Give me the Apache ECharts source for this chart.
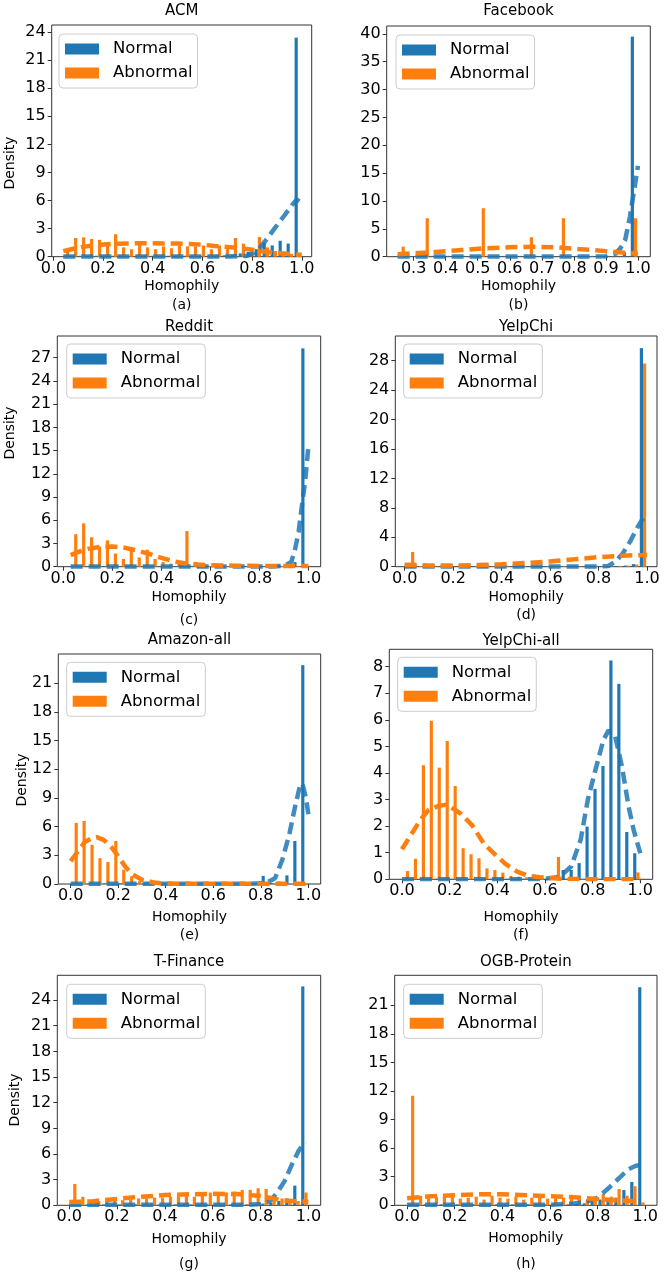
<!DOCTYPE html>
<html><head><meta charset="utf-8">
<script src="https://cdn.jsdelivr.net/npm/echarts@6/dist/echarts.min.js"></script>
<style>html,body{margin:0;padding:0;background:#fff}#c{width:664px;height:1272px}</style>
</head><body><div id="c"></div>
<script>
// ---------- data ----------
const unitXTicks = [0, 0.2, 0.4, 0.6, 0.8, 1.0];
const fbXTicks = [0.3, 0.4, 0.5, 0.6, 0.7, 0.8, 0.9, 1.0];

const acmBins = [0.035, 1.0, 30];
const acmNormal = [0.1,0.1,0.1,0.1,0.1,0.1,0.1,0.1,0.1,0.1,0.1,0.1,0.1,0.1,0.1,0.1,0.1,0.1,0.1,0.15,0.15,0.2,0.35,0.5,0.8,1.5,1.2,1.7,1.4,23.4];
const acmAbnormal = [0.6,2.0,2.07,1.9,1.8,1.2,2.4,1.0,0.8,1.6,1.0,0.8,1.1,0.9,1.2,1.1,1.1,1.2,0.8,1.2,1.1,2.0,1.4,0.9,2.1,1.0,0.6,0.4,0.3,0.3];
const acmNormalCurve = [[0.04,0.02],[0.5,0.02],[0.7,0.02],[0.78,0.1],[0.8,0.3],[0.83,0.9],[0.86,1.9],[0.89,3.0],[0.93,4.4],[0.96,5.5],[0.98,6.1],[0.99,5.9]];
const acmAbnormalCurve = [[0.04,0.6],[0.08,0.85],[0.12,1.05],[0.16,1.2],[0.2,1.3],[0.25,1.38],[0.3,1.42],[0.35,1.43],[0.4,1.43],[0.45,1.42],[0.5,1.4],[0.55,1.35],[0.6,1.28],[0.65,1.15],[0.7,1.05],[0.75,0.92],[0.8,0.75],[0.85,0.55],[0.9,0.4],[0.95,0.3],[1.0,0.2]];
const acmYTicks = [0,3,6,9,12,15,18,21,24];

const fbBins = [0.25, 1.0, 30];
const fbNormal = [0.15,0.15,0.15,0.15,0.15,0.15,0.15,0.15,0.15,0.15,0.15,0.15,0.15,0.15,0.15,0.15,0.15,0.15,0.15,0.15,0.15,0.15,0.15,0.15,0.15,0.15,0.15,0.2,0.8,39.5];
const fbAbnormal = [1.8,0,0,6.9,0,0,0,0,0,0,8.7,0,0,0,0,0,3.5,0,0,0,6.9,0,0,0,0,0,0,0,0,6.9];
const fbNormalCurve = [[0.25,0.02],[0.6,0.02],[0.85,0.02],[0.9,0.1],[0.93,0.6],[0.945,1.5],[0.96,3.0],[0.975,7.2],[0.99,12.6],[1.0,16.3]];
const fbAbnormalCurve = [[0.25,0.45],[0.3,0.6],[0.37,0.85],[0.45,1.2],[0.52,1.5],[0.6,1.7],[0.68,1.8],[0.75,1.65],[0.82,1.35],[0.9,1.0],[0.95,0.75],[1.0,0.55]];
const fbYTicks = [0,5,10,15,20,25,30,35,40];

const redditBins = [0.028, 1.0, 30];
const redditNormal = [0.1,0.1,0.1,0.1,0.1,0.1,0.1,0.1,0.1,0.1,0.1,0.1,0.1,0.1,0.1,0.1,0.1,0.1,0.1,0.1,0.1,0.1,0.1,0.1,0.1,0.1,0.2,0.3,0.6,28.2];
const redditAbnormal = [4.2,5.6,3.8,2.6,3.4,1.7,1.0,2.2,1.2,2.2,1.0,0.6,0.4,0.5,4.6,0.2,0.15,0.1,0.1,0.1,0.1,0.1,0.1,0.1,0.1,0.1,0.1,0.1,0.1,0.1];
const redditNormalCurve = [[0.03,0.02],[0.5,0.02],[0.85,0.02],[0.9,0.1],[0.93,0.6],[0.945,2.2],[0.96,4.5],[0.975,8.3],[0.988,11.5],[1.0,15.6]];
const redditAbnormalCurve = [[0.03,1.5],[0.06,1.9],[0.1,2.3],[0.15,2.55],[0.2,2.6],[0.25,2.45],[0.3,2.1],[0.35,1.65],[0.4,1.15],[0.45,0.7],[0.5,0.42],[0.55,0.28],[0.6,0.2],[0.7,0.13],[0.8,0.1],[0.9,0.1],[1.0,0.1]];
const redditYTicks = [0,3,6,9,12,15,18,21,24,27];

const yelpBins = [0.01, 1.0, 30];
const yelpNormal = [0.05,0.05,0.05,0.05,0.05,0.05,0.05,0.05,0.05,0.05,0.05,0.05,0.05,0.05,0.05,0.05,0.05,0.05,0.05,0.05,0.05,0.05,0.05,0.05,0.05,0.05,0.05,0.15,0.35,29.7];
const yelpAbnormal = [2.0,0.1,0.05,0.05,0.05,0.05,0.05,0.05,0.05,0.05,0.05,0.05,0.05,0.05,0.05,0.05,0.05,0.05,0.05,0.05,0.05,0.05,0.05,0.05,0.05,0.05,0.1,0.15,0.3,27.6];
const yelpNormalCurve = [[0.0,0.02],[0.5,0.02],[0.8,0.02],[0.84,0.1],[0.87,0.7],[0.9,1.8],[0.93,3.4],[0.96,5.3],[0.98,6.4],[1.0,7.0]];
const yelpAbnormalCurve = [[0.0,0.25],[0.1,0.18],[0.2,0.15],[0.3,0.22],[0.4,0.33],[0.5,0.5],[0.6,0.72],[0.7,1.0],[0.8,1.3],[0.9,1.5],[1.0,1.6]];
const yelpYTicks = [0,4,8,12,16,20,24,28];

const amazonBins = [0.0, 1.0, 30];
const amazonNormal = [0.05,0.05,0.05,0.05,0.05,0.05,0.05,0.05,0.05,0.05,0.05,0.05,0.05,0.05,0.05,0.05,0.05,0.05,0.05,0.05,0.05,0.05,0.05,0.05,0.85,0.1,0.25,0.9,4.5,22.9];
const amazonAbnormal = [6.4,6.6,4.1,2.7,2.3,4.5,1.5,0.8,0.3,0.2,0.1,0.05,0.05,0.03,0.03,0.02,0.02,0.02,0.02,0.02,0.02,0.02,0.02,0.02,0.02,0.02,0.02,0.02,0.05,0.1];
const amazonNormalCurve = [[0.0,0.02],[0.5,0.02],[0.75,0.02],[0.82,0.1],[0.86,0.6],[0.89,2.5],[0.92,5.2],[0.945,8.2],[0.965,10.3],[0.975,10.5],[0.99,9.0],[1.0,7.3]];
const amazonAbnormalCurve = [[0.0,2.4],[0.03,3.4],[0.06,4.4],[0.09,4.8],[0.11,4.9],[0.14,4.6],[0.17,3.9],[0.2,2.9],[0.23,1.8],[0.26,1.0],[0.3,0.45],[0.35,0.15],[0.4,0.05],[0.5,0.02],[0.7,0.02],[0.9,0.02],[1.0,0.02]];
const amazonYTicks = [0,3,6,9,12,15,18,21];

const yelpAllBins = [0.0, 1.0, 30];
const yelpAllNormal = [0.02,0.02,0.02,0.02,0.02,0.02,0.02,0.02,0.02,0.02,0.02,0.02,0.02,0.02,0.02,0.02,0.02,0.02,0.02,0.02,0.35,0.35,0.61,1.98,3.4,4.26,8.23,7.35,1.78,0.98];
const yelpAllAbnormal = [0.31,0.77,4.29,5.96,4.2,5.2,3.51,1.17,0.94,0.79,0.41,0.35,0.25,0.125,0.1,0.08,0.07,0.06,0.07,0.84,0.03,0.02,0.02,0.02,0.02,0.02,0.02,0.02,0.02,0.26];
const yelpAllNormalCurve = [[0.0,0.0],[0.3,0.0],[0.5,0.0],[0.6,0.02],[0.65,0.08],[0.67,0.16],[0.71,0.48],[0.75,1.5],[0.78,3.0],[0.81,4.05],[0.845,5.24],[0.867,5.6],[0.895,5.37],[0.923,4.24],[0.951,2.73],[0.972,1.86],[1.0,0.98]];
const yelpAllAbnormalCurve = [[0.0,1.13],[0.042,1.73],[0.077,2.23],[0.112,2.61],[0.154,2.76],[0.18,2.8],[0.203,2.73],[0.245,2.48],[0.294,2.04],[0.343,1.35],[0.385,0.98],[0.434,0.58],[0.483,0.29],[0.531,0.13],[0.58,0.08],[0.65,0.03],[0.7,0.01],[0.85,0.0],[1.0,0.0]];
const yelpAllYTicks = [0,1,2,3,4,5,6,7,8];

const tfinBins = [0.0, 1.0, 30];
const tfinNormal = [0.1,0.1,0.1,0.1,0.1,0.1,0.1,0.1,0.1,0.1,0.1,0.1,0.1,0.1,0.1,0.1,0.1,0.1,0.1,0.1,0.1,0.1,0.1,0.1,0.2,0.3,0.5,0.8,2.3,25.6];
const tfinAbnormal = [2.5,1.0,0.4,0.5,0.5,0.6,0.6,0.7,0.8,0.8,0.9,0.9,1.0,1.0,1.1,1.0,1.4,1.5,1.4,1.5,1.6,1.8,1.8,2.0,1.9,1.0,0.8,0.6,0.5,1.5];
const tfinNormalCurve = [[0.0,0.05],[0.5,0.05],[0.75,0.05],[0.8,0.15],[0.84,0.5],[0.87,1.5],[0.9,2.8],[0.93,4.7],[0.96,6.4],[0.985,7.4]];
const tfinAbnormalCurve = [[0.0,0.4],[0.05,0.42],[0.1,0.48],[0.2,0.75],[0.3,1.0],[0.4,1.2],[0.5,1.28],[0.6,1.35],[0.7,1.32],[0.8,1.1],[0.9,0.55],[1.0,0.4]];
const tfinYTicks = [0,3,6,9,12,15,18,21,24];

const ogbBins = [0.0, 1.0, 30];
const ogbNormal = [0.1,0.1,0.1,0.1,0.1,0.1,0.1,0.1,0.1,0.1,0.1,0.1,0.1,0.1,0.1,0.1,0.1,0.1,0.1,0.1,0.1,0.15,0.2,0.4,0.6,0.7,0.8,1.6,2.45,22.9];
const ogbAbnormal = [11.5,1.0,0.8,0.9,1.0,0.9,0.7,0.8,0.9,0.6,1.0,0.8,0.7,0.9,0.6,0.8,1.1,0.7,0.9,0.8,0.7,0.9,0.6,0.8,1.2,0.9,1.7,1.0,2.0,0.3];
const ogbNormalCurve = [[0.0,0.05],[0.6,0.05],[0.7,0.2],[0.75,0.35],[0.8,0.8],[0.85,1.9],[0.9,3.1],[0.93,3.8],[0.96,4.15],[0.98,4.2],[1.0,4.05]];
const ogbAbnormalCurve = [[0.0,0.75],[0.1,0.95],[0.2,1.05],[0.3,1.15],[0.4,1.15],[0.5,1.05],[0.6,0.95],[0.7,0.85],[0.8,0.65],[0.9,0.5],[0.98,0.4]];
const ogbYTicks = [0,3,6,9,12,15,18,21];

// ---------- styling / layout ----------
const BLUE = '#1f77b4', ORANGE = '#ff7f0e';
const BLUE_LINE = 'rgba(31,119,180,0.85)', ORANGE_LINE = '#ff7f0e';
const FONT = '"DejaVu Sans", sans-serif';

const panels = [
  {title:'ACM', cap:'(a)', bins:acmBins, normal:acmNormal, abnormal:acmAbnormal, nc:acmNormalCurve, ac:acmAbnormalCurve, xt:unitXTicks, yt:acmYTicks,
   xr:[-0.0067,1.040], yr:[0,24.75], g:[51.7,25,260,231.7], leg:[59,34], tY:11, lY:286, cY:305, dens:[10,163]},
  {title:'Facebook', cap:'(b)', bins:fbBins, normal:fbNormal, abnormal:fbAbnormal, nc:fbNormalCurve, ac:fbAbnormalCurve, xt:fbXTicks, yt:fbYTicks,
   xr:[0.216,1.0385], yr:[0,41.4], g:[386.7,26,263.6,230.7], leg:[396,35], tY:11, lY:286, cY:305},
  {title:'Reddit', cap:'(c)', bins:redditBins, normal:redditNormal, abnormal:redditAbnormal, nc:redditNormalCurve, ac:redditAbnormalCurve, xt:unitXTicks, yt:redditYTicks,
   xr:[-0.0245,1.050], yr:[0,29.8], g:[57.3,336,263.4,230.7], leg:[66.7,344], tY:327, lY:597, cY:620, dens:[10,433]},
  {title:'YelpChi', cap:'(d)', bins:yelpBins, normal:yelpNormal, abnormal:yelpAbnormal, nc:yelpNormalCurve, ac:yelpAbnormalCurve, xt:unitXTicks, yt:yelpYTicks,
   xr:[-0.0385,1.0413], yr:[0,31.35], g:[395.3,336,261.7,230.7], leg:[403.7,344], tY:327, lY:597, cY:615},
  {title:'Amazon-all', cap:'(e)', bins:amazonBins, normal:amazonNormal, abnormal:amazonAbnormal, nc:amazonNormalCurve, ac:amazonAbnormalCurve, xt:unitXTicks, yt:amazonYTicks,
   xr:[-0.052,1.052], yr:[0,24.07], g:[58.3,654,262.4,230], leg:[66.7,662.3], tY:640, lY:917, cY:935, dens:[22,780]},
  {title:'YelpChi-all', cap:'(f)', bins:yelpAllBins, normal:yelpAllNormal, abnormal:yelpAllAbnormal, nc:yelpAllNormalCurve, ac:yelpAllAbnormalCurve, xt:unitXTicks, yt:yelpAllYTicks,
   xr:[-0.053,1.052], yr:[0,8.65], g:[389.3,649.3,263.4,230], leg:[397.7,657.3], tY:641, lY:917, cY:935},
  {title:'T-Finance', cap:'(g)', bins:tfinBins, normal:tfinNormal, abnormal:tfinAbnormal, nc:tfinNormalCurve, ac:tfinAbnormalCurve, xt:unitXTicks, yt:tfinYTicks,
   xr:[-0.050,1.0516], yr:[0,26.9], g:[57.3,975.3,263.4,230], leg:[66.7,984.3], tY:962, lY:1239, cY:1264, dens:[15,1100]},
  {title:'OGB-Protein', cap:'(h)', bins:ogbBins, normal:ogbNormal, abnormal:ogbAbnormal, nc:ogbNormalCurve, ac:ogbAbnormalCurve, xt:unitXTicks, yt:ogbYTicks,
   xr:[-0.052,1.049], yr:[0,24.15], g:[394.7,975.3,262.3,230], leg:[403.7,984.3], tY:962, lY:1238, cY:1264}
];

function histSeries(name, color, gi, bins, values, f0, f1) {
  const lo = bins[0], hi = bins[1], n = bins[2], bw = (hi - lo) / n;
  return {
    type: 'custom', name: name, xAxisIndex: gi, yAxisIndex: gi, z: 2,
    itemStyle: {color: color},
    data: values.map((v, k) => [lo + k * bw, v]),
    renderItem: function (params, api) {
      const left = api.value(0), v = api.value(1);
      const p0 = api.coord([left + f0 * bw, v]);
      const p1 = api.coord([left + f1 * bw, 0]);
      return {type: 'rect', shape: {x: p0[0], y: p0[1], width: p1[0] - p0[0], height: p1[1] - p0[1]}, style: {fill: color}};
    }
  };
}
function curveSeries(name, color, gi, pts) {
  return {type: 'line', name: name, xAxisIndex: gi, yAxisIndex: gi, data: pts, showSymbol: false, symbol: 'none',
    z: 4, silent: true, lineStyle: {color: color, width: 4.5, type: [12, 6]}};
}

const grid = [], xAxis = [], yAxis = [], series = [], legend = [], graphic = [];
panels.forEach((p, i) => {
  grid.push({left: p.g[0], top: p.g[1], width: p.g[2], height: p.g[3], show: true, borderColor: '#333', borderWidth: 1, containLabel: false});
  xAxis.push({gridIndex: i, type: 'value', min: p.xr[0], max: p.xr[1],
    axisLine: {show: false, onZero: false}, splitLine: {show: false},
    axisTick: {show: true, inside: false, length: 4, customValues: p.xt, lineStyle: {color: '#333'}},
    axisLabel: {customValues: p.xt, formatter: v => Number(v).toFixed(1), fontSize: 16, color: '#000', margin: 4, fontFamily: FONT}});
  yAxis.push({gridIndex: i, type: 'value', min: p.yr[0], max: p.yr[1],
    axisLine: {show: false, onZero: false}, splitLine: {show: false},
    axisTick: {show: true, inside: false, length: 4, customValues: p.yt, lineStyle: {color: '#333'}},
    axisLabel: {customValues: p.yt, formatter: v => String(Math.round(v)), fontSize: 16, color: '#000', margin: 6, fontFamily: FONT}});
  series.push(histSeries('Normal', BLUE, i, p.bins, p.normal, 0.1, 0.5));
  series.push(histSeries('Abnormal', ORANGE, i, p.bins, p.abnormal, 0.5, 0.9));
  series.push(curveSeries('Normal curve', BLUE_LINE, i, p.nc));
  series.push(curveSeries('Abnormal curve', ORANGE_LINE, i, p.ac));
  legend.push({left: p.leg[0], top: p.leg[1], orient: 'vertical', selectedMode: false, icon: 'rect',
    data: [{name: 'Normal', itemStyle: {color: BLUE}}, {name: 'Abnormal', itemStyle: {color: ORANGE}}],
    itemWidth: 34, itemHeight: 11, itemGap: 6, padding: [6, 5, 6, 6],
    borderColor: '#cccccc', borderWidth: 1, borderRadius: 4, backgroundColor: 'rgba(255,255,255,0.8)',
    textStyle: {fontSize: 16.5, color: '#000', lineHeight: 18, fontFamily: FONT, padding: [0, 0, 0, 9]}});
  const cx = p.g[0] + p.g[2] / 2;
  const txt = (x, y, s, size, rot) => ({type: 'text', x: x, y: y, rotation: rot || 0, z: 10,
    style: {text: s, font: size + 'px ' + FONT, fill: '#000', textAlign: 'center', textVerticalAlign: 'middle', align: 'center', verticalAlign: 'middle'}});
  graphic.push(txt(cx, p.tY, p.title, 15));
  graphic.push(txt(cx, p.lY, 'Homophily', 14));
  graphic.push(txt(cx, p.cY, p.cap, 14));
  if (p.dens) graphic.push(txt(p.dens[0], p.dens[1], 'Density', 14, Math.PI / 2));
});

const chart = echarts.init(document.getElementById('c'), null, {renderer: 'canvas'});
chart.setOption({animation: false, backgroundColor: '#fff', textStyle: {fontFamily: FONT},
  grid: grid, xAxis: xAxis, yAxis: yAxis, series: series, legend: legend, graphic: graphic});
</script></body></html>
